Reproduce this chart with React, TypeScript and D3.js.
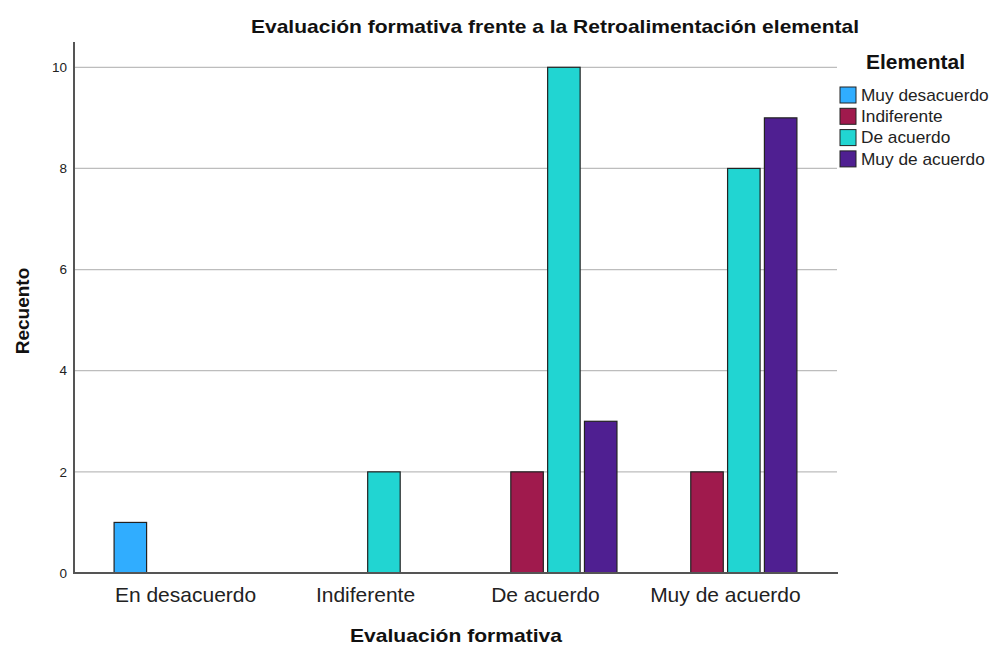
import React from 'react';
import * as d3 from 'd3';

// x categories (Evaluación formativa)
const categories = ['En desacuerdo', 'Indiferente', 'De acuerdo', 'Muy de acuerdo'];
// legend series (Elemental)
const series = ['Muy desacuerdo', 'Indiferente', 'De acuerdo', 'Muy de acuerdo'];
const seriesColors = ['#30adff', '#a01a4d', '#21d5d2', '#4f1f91'];
// counts per category, one entry per series (null = no bar)
const counts: (number | null)[][] = [
  [1, null, null, null],
  [null, null, 2, null],
  [null, 2, 10, 3],
  [null, 2, 8, 9],
];
const yTicks = [0, 2, 4, 6, 8, 10];

const font = '"Liberation Sans", Arial, sans-serif';

export default function App() {
  const width = 992;
  const height = 646;
  const margin = { top: 42, right: 155, bottom: 73, left: 74 };

  const x = d3.scaleBand<string>()
    .domain(categories)
    .range([margin.left, width - margin.right])
    .paddingInner(0.2)
    .paddingOuter(0.22);

  const xInner = d3.scaleBand<string>()
    .domain(series)
    .range([0, x.bandwidth()])
    .paddingInner(0.09);

  const y = d3.scaleLinear()
    .domain([0, 10.5])
    .range([height - margin.bottom, margin.top]);

  const x0 = margin.left;
  const x1 = width - margin.right;
  const yBase = y(0);

  return (
    <svg width={width} height={height} style={{ position: 'absolute', left: 0, top: 0, background: '#fff' }}>
      <rect width={width} height={height} fill="#fff" />
      <text x={555} y={33} textAnchor="middle" fontFamily={font} fontWeight="bold" fontSize={19}
        textLength={608} lengthAdjust="spacingAndGlyphs" fill="#111">
        Evaluación formativa frente a la Retroalimentación elemental
      </text>

      {/* gridlines */}
      {yTicks.filter(t => t > 0).map(t => (
        <line key={t} x1={x0} x2={x1} y1={y(t)} y2={y(t)} stroke="#bdbdbd" strokeWidth={1.2} />
      ))}

      {/* y tick labels */}
      {yTicks.map(t => (
        <text key={t} x={67} y={y(t)} dy="0.35em" textAnchor="end" fontFamily={font} fontSize={13.5} fill="#222">
          {t}
        </text>
      ))}

      {/* bars */}
      {categories.map((c, ci) => (
        <g key={c} transform={`translate(${x(c)},0)`}>
          {series.map((s, si) => {
            const v = counts[ci][si];
            if (v == null) return null;
            return (
              <rect
                key={s}
                x={(xInner(s) || 0) + 0.5}
                y={y(v)}
                width={xInner.bandwidth() - 1}
                height={yBase - y(v)}
                fill={seriesColors[si]}
                stroke="#222"
                strokeWidth={1.2}
              />
            );
          })}
        </g>
      ))}

      {/* axes */}
      <line x1={x0} x2={x0} y1={margin.top} y2={yBase} stroke="#555" strokeWidth={2} />
      <line x1={x0 - 1} x2={x1 + 1} y1={yBase} y2={yBase} stroke="#555" strokeWidth={2} />

      {/* x category labels */}
      {categories.map(c => (
        <text key={c} x={(x(c) || 0) + x.bandwidth() / 2} y={602} textAnchor="middle" fontFamily={font} fontSize={21} fill="#222">
          {c}
        </text>
      ))}

      <text x={456} y={642} textAnchor="middle" fontFamily={font} fontWeight="bold" fontSize={19}
        textLength={212} lengthAdjust="spacingAndGlyphs" fill="#111">
        Evaluación formativa
      </text>
      <text transform="translate(29,311) rotate(-90)" textAnchor="middle" fontFamily={font} fontWeight="bold" fontSize={19} fill="#111">
        Recuento
      </text>

      {/* legend */}
      <text x={866} y={69} fontFamily={font} fontWeight="bold" fontSize={19.5}
        textLength={99} lengthAdjust="spacingAndGlyphs" fill="#111">Elemental</text>
      {series.map((s, i) => (
        <g key={s} transform={`translate(840,${87 + i * 21.3})`}>
          <rect x={0} y={0} width={16} height={16} fill={seriesColors[i]} stroke="#222" strokeWidth={1} />
          <text x={21} y={8} dy="0.35em" fontFamily={font} fontSize={16} fill="#222"
            transform="translate(21,0) scale(1.08,1) translate(-21,0)">{s}</text>
        </g>
      ))}
    </svg>
  );
}
